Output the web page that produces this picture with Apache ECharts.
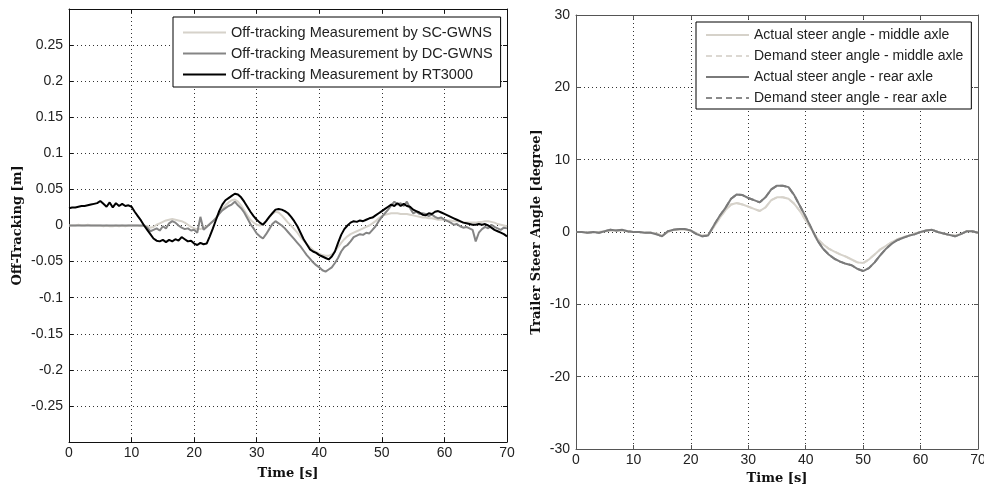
<!DOCTYPE html>
<html>
<head>
<meta charset="utf-8">
<script src="https://cdn.jsdelivr.net/npm/echarts@6/dist/echarts.min.js"></script>
<style>
  html, body { margin: 0; padding: 0; background: #fff; overflow: hidden; }
  #chart { width: 984px; height: 491px; }
</style>
</head>
<body>
<div id="chart"></div>
<script>
// Sample times (s) for the off-tracking traces
const TIME_OFF = [
  0,0.5,1,1.5,2,2.5,3,3.5,4,4.5, 5,5.5,6,6.5,7,7.5,8,8.5,9,9.5,
  10,10.5,11,11.5,12,12.5,13,13.5,14,14.5, 15,15.5,16,16.5,17,17.5,18,18.5,19,19.5,
  20,20.5,21,21.5,22,22.5,23,23.5,24,24.5, 25,25.5,26,26.5,27,27.5,28,28.5,29,29.5,
  30,30.5,31,31.5,32,32.5,33,33.5,34,34.5, 35,35.5,36,36.5,37,37.5,38,38.5,39,39.5,
  40,40.5,41,41.5,42,42.5,43,43.5,44,44.5, 45,45.5,46,46.5,47,47.5,48,48.5,49,49.5,
  50,50.5,51,51.5,52,52.5,53,53.5,54,54.5, 55,55.5,56,56.5,57,57.5,58,58.5,59,59.5,
  60,60.5,61,61.5,62,62.5,63,63.5,64,64.5, 65,65.5,66,66.5,67,67.5,68,68.5,69,69.5,
  70
];

// Off-tracking [m]
const SC_GWNS = [
  0.000,0.000,0.000,0.001,0.000,0.000,0.001,0.000,0.000,0.000,
  0.000,-0.001,0.000,-0.001,-0.001,0.000,-0.001,0.000,-0.001,0.000,
  0.000,0.000,0.000,-0.001,0.000,-0.001,-0.003,-0.002,0.001,0.003,
  0.005,0.007,0.008,0.009,0.008,0.007,0.006,0.004,0.001,-0.002,
  -0.004,-0.005,-0.005,-0.003,-0.001,0.002,0.006,0.011,0.017,0.023,
  0.028,0.032,0.035,0.036,0.033,0.028,0.021,0.014,0.008,0.004,
  0.001,0.000,0.002,0.006,0.011,0.016,0.019,0.018,0.014,0.009,
  0.004,0.000,-0.005,-0.010,-0.016,-0.021,-0.026,-0.030,-0.034,-0.037,
  -0.039,-0.041,-0.042,-0.042,-0.040,-0.036,-0.030,-0.024,-0.019,-0.015,
  -0.012,-0.010,-0.008,-0.006,-0.004,-0.002,0.000,0.003,0.006,0.010,
  0.013,0.015,0.016,0.017,0.017,0.017,0.016,0.016,0.016,0.015,
  0.014,0.013,0.012,0.011,0.011,0.010,0.010,0.009,0.008,0.008,
  0.008,0.007,0.007,0.006,0.006,0.005,0.005,0.004,0.004,0.004,
  0.004,0.005,0.005,0.006,0.006,0.005,0.004,0.002,0.001,0.000,
  -0.001
];
const DC_GWNS = [
  0,0,0,0,0,0,0,0,0,0,
  0,0,0,0,0,0,0,0,0,0,
  0,0,0,0,0,-0.003,-0.008,-0.006,-0.004,-0.007,
  -0.001,-0.004,0.003,0.006,0.004,0.000,-0.003,-0.005,-0.004,-0.007,
  -0.006,-0.010,0.012,-0.006,-0.002,0.002,0.006,0.010,0.016,0.021,
  0.024,0.027,0.029,0.033,0.028,0.024,0.018,0.010,0.002,-0.004,
  -0.011,-0.015,-0.018,-0.012,-0.005,0.002,0.006,0.003,0.000,-0.004,
  -0.009,-0.014,-0.019,-0.024,-0.029,-0.035,-0.041,-0.046,-0.051,-0.055,
  -0.058,-0.062,-0.064,-0.061,-0.058,-0.052,-0.045,-0.036,-0.030,-0.027,
  -0.022,-0.016,-0.014,-0.012,-0.013,-0.010,-0.011,-0.006,-0.001,0.006,
  0.012,0.017,0.022,0.028,0.033,0.029,0.031,0.027,0.033,0.024,
  0.017,0.019,0.016,0.017,0.016,0.013,0.015,0.012,0.010,0.011,
  0.008,0.006,0.004,0.001,0.002,-0.001,-0.003,-0.002,-0.004,-0.006,
  -0.022,-0.010,-0.005,-0.002,-0.004,0.001,-0.002,-0.004,-0.006,-0.003,
  -0.004
];
const RT3000 = [
  0.024,0.025,0.025,0.026,0.027,0.027,0.028,0.029,0.030,0.031,
  0.034,0.030,0.026,0.032,0.025,0.031,0.027,0.030,0.027,0.028,
  0.026,0.019,0.013,0.007,0.000,-0.006,-0.012,-0.018,-0.021,-0.022,
  -0.020,-0.023,-0.020,-0.022,-0.019,-0.021,-0.016,-0.019,-0.022,-0.021,
  -0.025,-0.027,-0.024,-0.026,-0.025,-0.015,-0.004,0.008,0.020,0.029,
  0.035,0.038,0.041,0.044,0.043,0.039,0.033,0.026,0.019,0.013,
  0.008,0.004,0.001,0.006,0.012,0.017,0.022,0.023,0.022,0.020,
  0.017,0.012,0.006,-0.001,-0.010,-0.019,-0.026,-0.033,-0.036,-0.038,
  -0.041,-0.043,-0.045,-0.047,-0.043,-0.036,-0.024,-0.013,-0.005,0.000,
  0.004,0.006,0.005,0.007,0.006,0.008,0.010,0.011,0.014,0.017,
  0.020,0.023,0.026,0.029,0.027,0.031,0.027,0.030,0.027,0.026,
  0.022,0.020,0.018,0.015,0.014,0.017,0.016,0.019,0.020,0.018,
  0.016,0.014,0.012,0.010,0.008,0.006,0.004,0.003,0.002,0.001,
  0.001,0.002,0.001,0.002,0.000,-0.003,-0.006,-0.008,-0.010,-0.012,
  -0.015
];

// Sample times (s) for the steer angle traces
const TIME_STEER = [
  0,1,2,3,4,5,6,7,8,9, 10,11,12,13,14,15,16,17,18,19,
  20,21,22,23,24,25,26,27,28,29, 30,31,32,33,34,35,36,37,38,39,
  40,41,42,43,44,45,46,47,48,49, 50,51,52,53,54,55,56,57,58,59,
  60,61,62,63,64,65,66,67,68,69, 70
];

// Trailer steer angle [degree]
const ACTUAL_MIDDLE = [
  0.0,0.0,-0.1,0.0,0.0,0.1,0.2,0.2,0.2,0.1,
  0.0,0.0,-0.1,-0.1,-0.2,-0.5,0.0,0.3,0.3,0.3,
  0.2,-0.2,-0.5,-0.4,0.7,1.9,3.0,3.8,4.0,3.8,
  3.5,3.2,2.9,3.4,4.4,4.8,4.8,4.6,3.9,2.9,
  1.6,0.4,-0.9,-1.7,-2.3,-2.7,-3.1,-3.4,-3.8,-4.2,
  -4.3,-3.8,-3.1,-2.4,-1.9,-1.4,-1.0,-0.7,-0.5,-0.2,
  0.0,0.2,0.3,0.0,-0.2,-0.4,-0.5,-0.3,0.1,0.1,
  -0.1
];
const DEMAND_MIDDLE = [
  0.0,0.0,-0.1,0.0,0.0,0.1,0.2,0.2,0.2,0.1,
  0.0,0.0,-0.1,-0.1,-0.2,-0.5,0.0,0.3,0.3,0.3,
  0.2,-0.2,-0.5,-0.4,0.7,1.9,3.0,3.8,4.0,3.8,
  3.5,3.2,2.9,3.4,4.4,4.8,4.8,4.6,3.9,2.9,
  1.6,0.4,-0.9,-1.7,-2.3,-2.7,-3.1,-3.4,-3.8,-4.2,
  -4.3,-3.8,-3.1,-2.4,-1.9,-1.4,-1.0,-0.7,-0.5,-0.2,
  0.0,0.2,0.3,0.0,-0.2,-0.4,-0.5,-0.3,0.1,0.1,
  -0.1
];
const ACTUAL_REAR = [
  0.0,0.0,-0.1,0.0,-0.1,0.1,0.3,0.2,0.3,0.1,
  0.0,0.0,-0.1,-0.1,-0.3,-0.6,0.1,0.3,0.4,0.4,
  0.2,-0.3,-0.6,-0.5,0.9,2.2,3.3,4.6,5.2,5.1,
  4.7,4.4,4.1,4.8,5.9,6.4,6.4,6.2,5.1,3.6,
  2.1,0.5,-1.1,-2.3,-3.1,-3.7,-4.1,-4.4,-4.6,-5.1,
  -5.4,-5.0,-4.2,-3.2,-2.3,-1.6,-1.1,-0.8,-0.5,-0.3,
  0.0,0.2,0.3,0.0,-0.2,-0.4,-0.6,-0.3,0.1,0.1,
  -0.1
];
const DEMAND_REAR = [
  0.0,0.0,-0.1,0.0,-0.1,0.1,0.3,0.2,0.3,0.1,
  0.0,0.0,-0.1,-0.1,-0.3,-0.6,0.1,0.3,0.4,0.4,
  0.2,-0.3,-0.6,-0.5,0.9,2.2,3.3,4.6,5.2,5.1,
  4.7,4.4,4.1,4.8,5.9,6.4,6.4,6.2,5.1,3.6,
  2.1,0.5,-1.1,-2.3,-3.1,-3.7,-4.1,-4.4,-4.6,-5.1,
  -5.4,-5.0,-4.2,-3.2,-2.3,-1.6,-1.1,-0.8,-0.5,-0.3,
  0.0,0.2,0.3,0.0,-0.2,-0.4,-0.6,-0.3,0.1,0.1,
  -0.1
];

const OFF_NAMES = [
  'Off-tracking Measurement by SC-GWNS',
  'Off-tracking Measurement by DC-GWNS',
  'Off-tracking Measurement by RT3000'
];
const STEER_NAMES = [
  'Actual steer angle - middle axle',
  'Demand steer angle - middle axle',
  'Actual steer angle - rear axle',
  'Demand steer angle - rear axle'
];

const SANS = 'Liberation Sans, Arial, sans-serif';
const SERIF = 'DejaVu Serif, serif';
const GRID_LINE = { show: true, lineStyle: { color: '#333', type: [1, 3], width: 1 } };

function zip(ts, vs) { return ts.map((t, i) => [t, vs[i]]); }

function mainX(gridIndex, frame, gap) {
  return {
    gridIndex, type: 'value', min: 0, max: 70, interval: 10, position: 'bottom',
    axisLine: { show: true, onZero: false, lineStyle: { color: frame, width: 1 } },
    axisTick: { show: true, inside: true, length: 4, lineStyle: { color: frame } },
    axisLabel: { color: '#222', fontFamily: SANS, fontSize: 14, margin: 4 },
    splitLine: GRID_LINE,
    name: 'Time [s]', nameLocation: 'middle', nameGap: gap,
    nameTextStyle: { fontFamily: SERIF, fontWeight: 'bold', fontSize: 13, color: '#111' }
  };
}
function frameX(gridIndex, frame) {
  return {
    gridIndex, type: 'value', min: 0, max: 70, interval: 10, position: 'top',
    axisLine: { show: true, onZero: false, lineStyle: { color: frame, width: 1 } },
    axisTick: { show: true, inside: true, length: 4, lineStyle: { color: frame } },
    axisLabel: { show: false }, splitLine: { show: false }
  };
}
function frameY(gridIndex, frame, min, max, interval) {
  return {
    gridIndex, type: 'value', min, max, interval, position: 'right',
    axisLine: { show: true, onZero: false, lineStyle: { color: frame, width: 1 } },
    axisTick: { show: true, inside: true, length: 4, lineStyle: { color: frame } },
    axisLabel: { show: false }, splitLine: { show: false }
  };
}

const LEGEND_BASE = {
  orient: 'vertical', backgroundColor: '#fff', borderColor: '#000', borderWidth: 1, borderRadius: 0,
  itemWidth: 43, itemHeight: 14,
  itemStyle: { opacity: 0 }
};

const option = {
  animation: false,
  backgroundColor: '#fff',
  grid: [
    { left: 69, top: 9, width: 438, height: 433, outerBoundsMode: 'none', containLabel: false },
    { left: 576, top: 15, width: 402, height: 434, outerBoundsMode: 'none', containLabel: false }
  ],
  xAxis: [
    mainX(0, '#111', 25),
    frameX(0, '#111'),
    mainX(1, '#555', 23),
    frameX(1, '#555')
  ],
  yAxis: [
    {
      gridIndex: 0, type: 'value', min: -0.3, max: 0.3, interval: 0.05, position: 'left',
      axisLine: { show: true, onZero: false, lineStyle: { color: '#111', width: 1 } },
      axisTick: { show: true, inside: true, length: 4, lineStyle: { color: '#111' } },
      axisLabel: {
        color: '#222', fontFamily: SANS, fontSize: 14, margin: 6,
        formatter: v => (Math.abs(Math.abs(v) - 0.3) < 1e-6 ? '' : String(parseFloat(v.toFixed(2))))
      },
      splitLine: GRID_LINE,
      name: 'Off-Tracking [m]', nameLocation: 'middle', nameGap: 45,
      nameTextStyle: { fontFamily: SERIF, fontWeight: 'bold', fontSize: 13, color: '#111' }
    },
    frameY(0, '#111', -0.3, 0.3, 0.05),
    {
      gridIndex: 1, type: 'value', min: -30, max: 30, interval: 10, position: 'left',
      axisLine: { show: true, onZero: false, lineStyle: { color: '#555', width: 1 } },
      axisTick: { show: true, inside: true, length: 4, lineStyle: { color: '#555' } },
      axisLabel: { color: '#222', fontFamily: SANS, fontSize: 14, margin: 6 },
      splitLine: GRID_LINE,
      name: 'Trailer Steer Angle [degree]', nameLocation: 'middle', nameGap: 33,
      nameTextStyle: { fontFamily: SERIF, fontWeight: 'bold', fontSize: 13, color: '#111' }
    },
    frameY(1, '#555', -30, 30, 10)
  ],
  legend: [
    Object.assign({}, LEGEND_BASE, {
      data: OFF_NAMES, left: 173, top: 17,
      padding: [8, 8, 5, 9], itemGap: 6,
      textStyle: { fontFamily: SANS, fontSize: 14.5, color: '#222' }
    }),
    Object.assign({}, LEGEND_BASE, {
      data: STEER_NAMES, left: 696, top: 22,
      padding: [6, 8, 4, 9], itemGap: 7,
      textStyle: { fontFamily: SANS, fontSize: 14, color: '#222' }
    })
  ],
  series: [
    { name: OFF_NAMES[0], type: 'line', xAxisIndex: 0, yAxisIndex: 0, symbol: 'none',
      data: zip(TIME_OFF, SC_GWNS), color: '#d6d2ca', lineStyle: { width: 2, color: '#d6d2ca' } },
    { name: OFF_NAMES[1], type: 'line', xAxisIndex: 0, yAxisIndex: 0, symbol: 'none',
      data: zip(TIME_OFF, DC_GWNS), color: '#858585', lineStyle: { width: 2, color: '#858585' } },
    { name: OFF_NAMES[2], type: 'line', xAxisIndex: 0, yAxisIndex: 0, symbol: 'none',
      data: zip(TIME_OFF, RT3000), color: '#000', lineStyle: { width: 2, color: '#000' } },

    { name: STEER_NAMES[1], type: 'line', xAxisIndex: 2, yAxisIndex: 2, symbol: 'none',
      data: zip(TIME_STEER, DEMAND_MIDDLE), color: '#dcd8d2',
      lineStyle: { width: 2, color: '#dcd8d2', type: [6, 4] } },
    { name: STEER_NAMES[3], type: 'line', xAxisIndex: 2, yAxisIndex: 2, symbol: 'none',
      data: zip(TIME_STEER, DEMAND_REAR), color: '#8a8a8a',
      lineStyle: { width: 2, color: '#8a8a8a', type: [6, 4] } },
    { name: STEER_NAMES[0], type: 'line', xAxisIndex: 2, yAxisIndex: 2, symbol: 'none',
      data: zip(TIME_STEER, ACTUAL_MIDDLE), color: '#d6d2ca',
      lineStyle: { width: 2, color: '#d6d2ca' } },
    { name: STEER_NAMES[2], type: 'line', xAxisIndex: 2, yAxisIndex: 2, symbol: 'none',
      data: zip(TIME_STEER, ACTUAL_REAR), color: '#7a7a7a',
      lineStyle: { width: 2, color: '#7a7a7a' } }
  ]
};

const chart = echarts.init(document.getElementById('chart'), null, { renderer: 'canvas' });
chart.setOption(option);
</script>
</body>
</html>
